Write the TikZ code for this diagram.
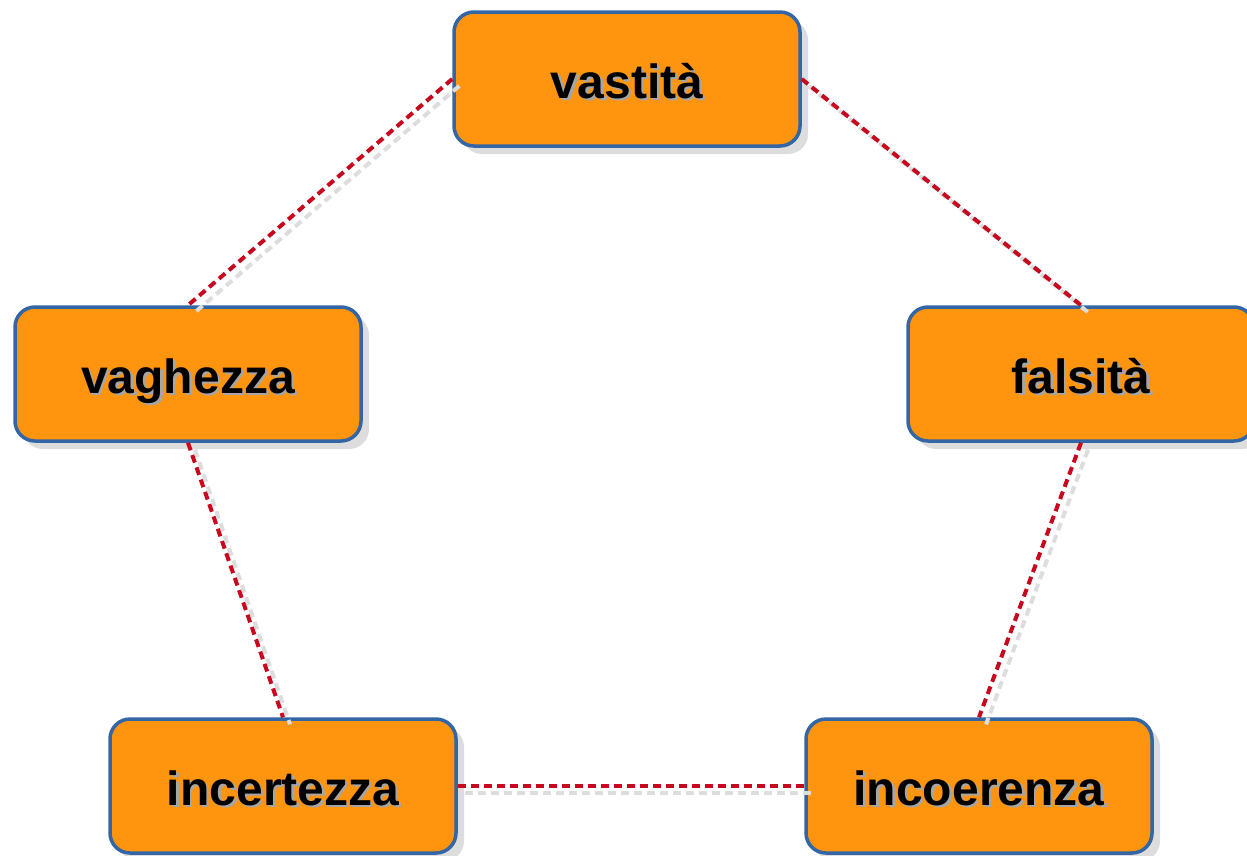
\documentclass[tikz,border=0pt]{standalone}
\usepackage{fontspec}
\setmainfont{Liberation Sans}
\usepackage{tikz}
\usetikzlibrary{shadows}
\definecolor{boxorange}{RGB}{255,149,14}
\definecolor{boxblue}{RGB}{52,101,164}
\definecolor{linkred}{RGB}{200,8,30}
\definecolor{shadegray}{RGB}{221,221,221}
\newcommand{\shtext}[1]{\makebox[0pt][l]{\hspace{2.5pt}\raisebox{-2.5pt}{\color{black!35}#1}}#1}

\begin{document}
\begin{tikzpicture}[x=1pt, y=-1pt,
        tbox/.style={draw=boxblue, fill=boxorange, line width=3.5pt, rounded corners=20pt,
                     minimum width=346pt, minimum height=134pt, inner sep=0pt,
                     text height=38pt, text depth=0pt,
                     font=\bfseries\fontsize{48}{52}\selectfont,
                     drop shadow={shadow xshift=8pt, shadow yshift=-8pt, fill=shadegray, opacity=1}},
        link/.style={draw=linkred, line width=4pt, dash pattern=on 8pt off 5pt},
        linkshade/.style={draw=shadegray, line width=4pt, dash pattern=on 8pt off 5pt}
    ]
    \useasboundingbox (0,0) rectangle (1247,855);
    \node[tbox] (vast) at (627,79) {\shtext{vastità}};
    \node[tbox] (vag) at (188,374) {\shtext{vaghezza}};
    \node[tbox] (fals) at (1081,374) {\shtext{falsità}};
    \node[tbox] (incert) at (283,786) {\shtext{incertezza}};
    \node[tbox] (incoer) at (979,786) {\shtext{incoerenza}};
    \foreach \a/\b in {vast.west/vag.north, vast.east/fals.north, vag.south/incert.north,
                       fals.south/incoer.north, incert.east/incoer.west} {
        \draw[linkshade] ([xshift=7pt,yshift=-7pt]\a) -- ([xshift=7pt,yshift=-7pt]\b);
        \draw[link] (\a) -- (\b);
    }
\end{tikzpicture}
\end{document}
